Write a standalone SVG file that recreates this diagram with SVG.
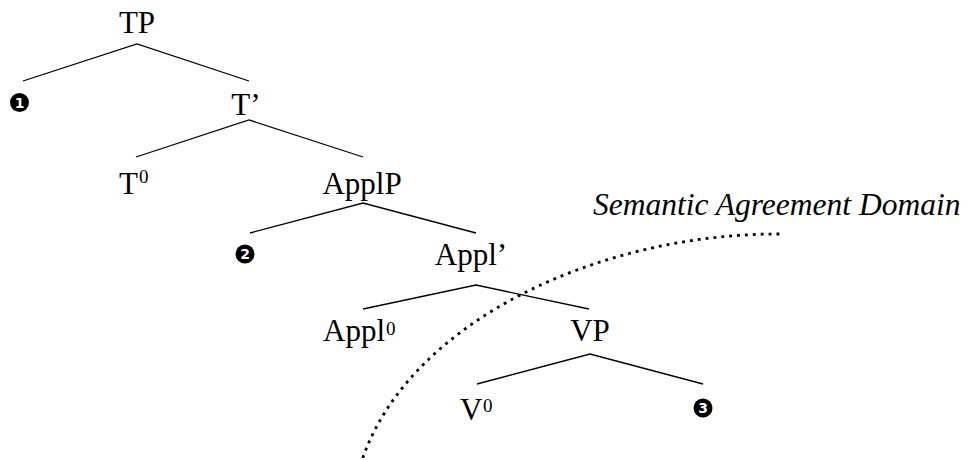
<svg xmlns="http://www.w3.org/2000/svg" width="969" height="460" viewBox="0 0 969 460">
<style>
.lbl{font-family:"Liberation Serif","Times New Roman",serif;font-size:31px;fill:#000}
.sup{font-family:"Liberation Serif","Times New Roman",serif;font-size:19px;fill:#000}
.dom{font-family:"Liberation Serif","Times New Roman",serif;font-size:31.5px;font-style:italic;fill:#000}
.num{font-family:"DejaVu Sans","Liberation Sans",sans-serif;font-size:14px;font-weight:bold;fill:#fff;text-anchor:middle}
.edge{stroke:#000;stroke-width:1.3;fill:none}
.dot{stroke:#000;stroke-width:2.8;fill:none;stroke-linecap:square;stroke-dasharray:0.1 7.8}
</style>
<rect width="969" height="460" fill="#fff"/>
<g id="connectors">
<path class="edge" d="M23,81 L137,44 L249,81"/>
<path class="edge" d="M136,157 L249,120 L363,157"/>
<path class="edge" d="M250,233 L363,203 L476,233"/>
<path class="edge" d="M363,309 L476,285 L589,309"/>
<path class="edge" d="M477,384 L590,354 L703,384"/>
</g>
<g id="domain">
<path class="dot" d="M778,234 C600,234 410,320 362,460"/>
<text class="dom" x="593" y="215">Semantic Agreement Domain</text>
</g>
<g id="TP"><text class="lbl" x="137" y="33" text-anchor="middle">TP</text></g>
<g id="n1"><circle cx="19.5" cy="102.5" r="9.5"/><text class="num" x="19.5" y="107.5">1</text></g>
<g id="Tbar"><text class="lbl" x="246" y="115" text-anchor="middle">T’</text></g>
<g id="T0"><text class="lbl" x="119" y="194">T</text><text class="sup" x="139" y="183">0</text></g>
<g id="ApplP"><text class="lbl" x="362" y="194" text-anchor="middle">ApplP</text></g>
<g id="n2"><circle cx="245" cy="254" r="9.5"/><text class="num" x="245" y="259">2</text></g>
<g id="Applbar"><text class="lbl" x="471" y="265" text-anchor="middle">Appl’</text></g>
<g id="Appl0"><text class="lbl" x="323" y="341">Appl</text><text class="sup" x="386" y="335">0</text></g>
<g id="VP"><text class="lbl" x="590" y="341" text-anchor="middle">VP</text></g>
<g id="V0"><text class="lbl" x="460" y="420">V</text><text class="sup" x="483" y="412">0</text></g>
<g id="n3"><circle cx="703" cy="408" r="9.5"/><text class="num" x="703" y="413">3</text></g>
</svg>
